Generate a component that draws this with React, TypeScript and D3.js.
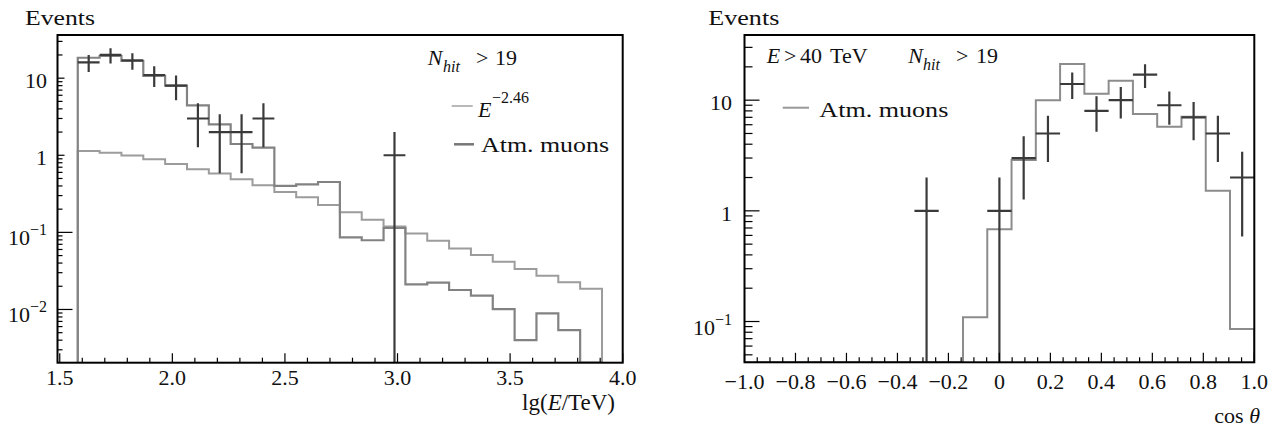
import * as d3 from "d3";

// ---- lg(E/TeV) panel: 24 bins from 1.58, width 0.097
const energyBinStart = 1.58;
const energyBinWidth = 0.097;
const energyAtmMuons = [
  18.4, 19.4, 16.7, 10.7, 8.0, 4.45, 2.52, 1.4, 1.26, 0.4, 0.42, 0.45,
  0.086, 0.079, 0.114, 0.0212, 0.0223, 0.0179, 0.0151, 0.0101, 0.004, 0.0089, 0.0054, 0,
];
const energyAstro = [
  1.14, 1.08, 0.99, 0.89, 0.77, 0.66, 0.58, 0.49, 0.41, 0.334, 0.285, 0.227,
  0.182, 0.146, 0.119, 0.097, 0.078, 0.062, 0.051, 0.0417, 0.0335, 0.0274, 0.0225, 0.0185,
];
const energyData = [16, 20, 17, 11, 8, 3, 2, 2, 3, 0, 0, 0, 0, 0, 1, 0, 0, 0, 0, 0, 0, 0, 0, 0];
const energyTicks = [1.5, 2.0, 2.5, 3.0, 3.5, 4.0];
const energyTickLabels = ["1.5", "2.0", "2.5", "3.0", "3.5", "4.0"];

// ---- cos theta panel: 21 bins over [-1, 1]
const cosBinCount = 21;
const cosAtmMuons = [
  0, 0, 0, 0, 0, 0, 0, 0, 0, 0.109, 0.681, 2.88, 10.0, 21.2, 11.4, 15.0, 7.5, 5.76, 7.09, 1.52, 0.0856,
];
const cosData = [0, 0, 0, 0, 0, 0, 0, 1, 0, 0, 1, 3, 5, 14, 8, 10, 17, 9, 7, 5, 2];
const cosTicks = [-1, -0.8, -0.6, -0.4, -0.2, 0, 0.2, 0.4, 0.6, 0.8, 1];
const cosTickLabels = ["−1.0", "−0.8", "−0.6", "−0.4", "−0.2", "0", "0.2", "0.4", "0.6", "0.8", "1.0"];

type LogLabel = { v: number; main: string; sup?: string; len: number };
const leftYLabels: LogLabel[] = [
  { v: 10, main: "10", len: 7 },
  { v: 1, main: "1", len: 7 },
  { v: 0.1, main: "10", sup: "−1", len: 15 },
  { v: 0.01, main: "10", sup: "−2", len: 15 },
];
const rightYLabels: LogLabel[] = [
  { v: 10, main: "10", len: 15 },
  { v: 1, main: "1", len: 15 },
  { v: 0.1, main: "10", sup: "−1", len: 15 },
];

const FONT = "'Liberation Serif', 'DejaVu Serif', serif";
const DATA_COLOR = "#3a3a3a";

type Hist = { edges: number[]; values: number[]; color: string; width: number };
type Frame = { l: number; t: number; r: number; b: number };

function minorLogTicks(domain: [number, number]) {
  const out: number[] = [];
  const lo = Math.floor(Math.log10(domain[0]));
  const hi = Math.ceil(Math.log10(domain[1]));
  for (let d = lo; d <= hi; d++) {
    for (let m = 2; m <= 9; m++) {
      const v = m * Math.pow(10, d);
      if (v > domain[0] && v < domain[1]) out.push(v);
    }
  }
  return out;
}

function Panel(props: {
  id: string;
  frame: Frame;
  xDomain: [number, number];
  yDomain: [number, number];
  xTicks: number[];
  xTickLabels: string[];
  xMinor: number[];
  xLabelBaseline: number;
  yLabels: LogLabel[];
  yLabelRight: number;
  yMinorLen: number;
  hists: Hist[];
  dataEdges: number[];
  data: number[];
  children?: any;
}) {
  const { frame } = props;
  const x = d3.scaleLinear().domain(props.xDomain).range([frame.l, frame.r]);
  const y = d3.scaleLog().domain(props.yDomain).range([frame.b, frame.t]);
  const yy = (v: number) => (v > 0 ? Math.min(Math.max(y(v), frame.t), frame.b) : frame.b);

  const step = d3
    .line<[number, number]>()
    .x((p) => p[0])
    .y((p) => p[1])
    .curve(d3.curveStepAfter);

  const histPath = (h: Hist) => {
    const n = h.values.length;
    const pts: [number, number][] = [[x(h.edges[0]), frame.b]];
    h.values.forEach((v, i) => pts.push([x(h.edges[i]), yy(v)]));
    pts.push([x(h.edges[n]), yy(h.values[n - 1])]);
    pts.push([x(h.edges[n]), frame.b]);
    return step(pts) ?? "";
  };

  const minorY = minorLogTicks(props.yDomain);

  return (
    <g>
      <defs>
        <clipPath id={props.id}>
          <rect x={frame.l} y={frame.t} width={frame.r - frame.l} height={frame.b - frame.t} />
        </clipPath>
      </defs>
      <g clipPath={`url(#${props.id})`}>
        {props.hists.map((h, i) => (
          <path key={i} d={histPath(h)} fill="none" stroke={h.color} strokeWidth={h.width} />
        ))}
        {props.data.map((n, i) => {
          if (n <= 0) return null;
          const e = Math.sqrt(n);
          const x0 = x(props.dataEdges[i]);
          const x1 = x(props.dataEdges[i + 1]);
          const xc = (x0 + x1) / 2;
          return (
            <g key={i} stroke={DATA_COLOR} strokeWidth={2.2}>
              <line x1={x0} x2={x1} y1={y(n)} y2={y(n)} />
              <line x1={xc} x2={xc} y1={yy(n + e)} y2={yy(n - e)} />
            </g>
          );
        })}
      </g>

      {/* ticks */}
      <g stroke="#000" strokeWidth={1.2}>
        {minorY.map((v) => (
          <line key={v} x1={frame.l} x2={frame.l + props.yMinorLen} y1={y(v)} y2={y(v)} />
        ))}
        {props.yLabels.map((l) => (
          <line key={l.v} x1={frame.l} x2={frame.l + l.len} y1={y(l.v)} y2={y(l.v)} />
        ))}
        {props.xMinor.map((v) => (
          <line key={v} x1={x(v)} x2={x(v)} y1={frame.b} y2={frame.b - 5} />
        ))}
        {props.xTicks.map((v) => (
          <line key={v} x1={x(v)} x2={x(v)} y1={frame.b} y2={frame.b - 9.5} />
        ))}
      </g>

      <rect
        x={frame.l}
        y={frame.t}
        width={frame.r - frame.l}
        height={frame.b - frame.t}
        fill="none"
        stroke="#000"
        strokeWidth={2}
      />

      {/* tick labels */}
      <g fontFamily={FONT} fontSize={22} fill="#111">
        {props.xTicks.map((v, i) => (
          <text key={v} x={x(v)} y={props.xLabelBaseline} textAnchor="middle">
            {props.xTickLabels[i]}
          </text>
        ))}
        {props.yLabels.map((l) => (
          <text key={l.v} x={props.yLabelRight} y={y(l.v) + (l.sup ? 13 : 10)} textAnchor="end">
            {l.main}
            {l.sup && (
              <tspan fontSize={16} dy={-10}>
                {l.sup}
              </tspan>
            )}
          </text>
        ))}
      </g>
      {props.children}
    </g>
  );
}

export default function App() {
  const energyEdges = d3.range(energyAtmMuons.length + 1).map((i) => energyBinStart + i * energyBinWidth);
  const cosEdges = d3.range(cosBinCount + 1).map((i) => -1 + (2 * i) / cosBinCount);
  const energyMinor = d3.range(15, 41).map((v) => v / 10).filter((v) => !energyTicks.includes(v));
  const cosMinor = d3.range(-20, 21).map((v) => v / 20).filter((v) => Math.round(v * 100) % 20 !== 0);

  return (
    <svg
      width={1282}
      height={430}
      viewBox="0 0 1282 430"
      style={{ position: "absolute", left: 0, top: 0, background: "#fff" }}
    >
      <rect width={1282} height={430} fill="#fff" />
      <Panel
        id="clip-energy"
        frame={{ l: 57.5, t: 35, r: 622.7, b: 362.7 }}
        xDomain={[1.49, 4.0]}
        yDomain={[0.00204, 36.3]}
        xTicks={energyTicks}
        xTickLabels={energyTickLabels}
        xMinor={energyMinor}
        xLabelBaseline={385}
        yLabels={leftYLabels}
        yLabelRight={47}
        yMinorLen={5}
        hists={[
          { edges: energyEdges, values: energyAstro, color: "#9c9c9c", width: 2 },
          { edges: energyEdges, values: energyAtmMuons, color: "#828282", width: 2.2 },
        ]}
        dataEdges={energyEdges}
        data={energyData}
      >
        <g fontFamily={FONT} fontSize={22} fill="#111">
          <text x={25} y={25} textLength={70} lengthAdjust="spacingAndGlyphs">Events</text>
          <text x={427.7} y={65} fontStyle="italic">N</text>
          <text x={443} y={72} fontStyle="italic" fontSize={16}>hit</text>
          <text x={476} y={65}>&gt;</text>
          <text x={495} y={65}>19</text>
          <line x1={451.7} x2={472.7} y1={106} y2={106} stroke="#a8a8a8" strokeWidth={1.6} />
          <text x={478} y={116.7} fontStyle="italic">E</text>
          <text x={492} y={103} fontSize={16}>−2.46</text>
          <line x1={454} x2={474} y1={144.3} y2={144.3} stroke="#777" strokeWidth={2.5} />
          <text x={481} y={152.3} textLength={128} lengthAdjust="spacingAndGlyphs">Atm. muons</text>
          <text x={615} y={410} textAnchor="end" fontSize={23}>
            lg(<tspan fontStyle="italic">E</tspan>/TeV)
          </text>
        </g>
      </Panel>
      <Panel
        id="clip-cos"
        frame={{ l: 744.5, t: 35, r: 1254.3, b: 362.3 }}
        xDomain={[-1, 1]}
        yDomain={[0.0428, 38.8]}
        xTicks={cosTicks}
        xTickLabels={cosTickLabels}
        xMinor={cosMinor}
        xLabelBaseline={389}
        yLabels={rightYLabels}
        yLabelRight={732}
        yMinorLen={8}
        hists={[{ edges: cosEdges, values: cosAtmMuons, color: "#8c8c8c", width: 2 }]}
        dataEdges={cosEdges}
        data={cosData}
      >
        <g fontFamily={FONT} fontSize={22} fill="#111">
          <text x={708.3} y={25} textLength={71} lengthAdjust="spacingAndGlyphs">Events</text>
          <text x={766.7} y={63.3} fontStyle="italic">E</text>
          <text x={784} y={63.3}>&gt;</text>
          <text x={800} y={63.3}>40</text>
          <text x={830} y={63.3}>TeV</text>
          <text x={908.3} y={63.3} fontStyle="italic">N</text>
          <text x={923} y={70} fontStyle="italic" fontSize={16}>hit</text>
          <text x={956} y={63.3}>&gt;</text>
          <text x={976} y={63.3}>19</text>
          <line x1={782.7} x2={809} y1={107.7} y2={107.7} stroke="#999" strokeWidth={2} />
          <text x={819.3} y={116.7} textLength={129} lengthAdjust="spacingAndGlyphs">Atm. muons</text>
          <text x={1260} y={423} textAnchor="end">
            cos <tspan fontStyle="italic">θ</tspan>
          </text>
        </g>
      </Panel>
    </svg>
  );
}
